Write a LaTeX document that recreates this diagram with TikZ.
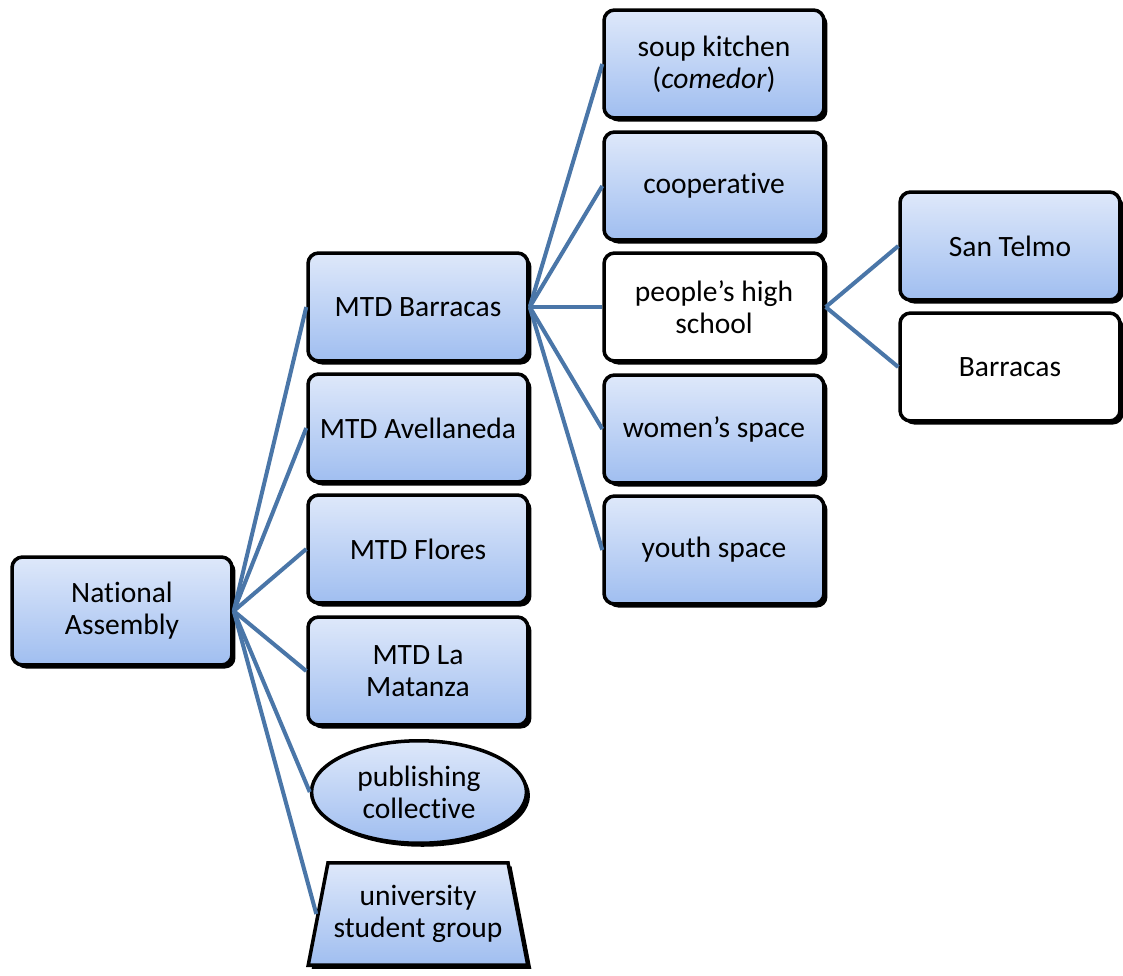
\documentclass[tikz,border=0pt]{standalone}
\usepackage{fontspec}
\setmainfont{Carlito}[Ligatures=NoCommon]
\usetikzlibrary{shapes.geometric,shadows}
\definecolor{linkblue}{RGB}{74,118,168}
\definecolor{boxtop}{RGB}{222,232,250}
\definecolor{boxbot}{RGB}{160,190,240}

\begin{document}
\begin{tikzpicture}
[x=0.02cm,y=-0.02cm,
unit/.style={draw=black,line width=2pt,rounded corners=6pt,
  minimum width=4.4cm,minimum height=2.16cm,align=center,
  font=\fontsize{16.8}{18.3}\selectfont,
  top color=boxtop,bottom color=boxbot,
  drop shadow={shadow xshift=2pt,shadow yshift=-2pt,fill=black,opacity=1}},
plain/.style={unit,top color=white,bottom color=white},
oval/.style={unit,ellipse,rounded corners=0pt,minimum width=4.3cm,minimum height=2.05cm},
trap/.style={unit,trapezium,rounded corners=0pt,trapezium stretches=true,inner xsep=0pt,
  trapezium angle=75,minimum width=4.4cm,minimum height=2.05cm},
link/.style={draw=linkblue,line width=2.3pt},]
\useasboundingbox (0,0) rectangle (1123,975);

\node (NA) at (122,611)[unit]{National\\Assembly};

\node (Barr) at (418,307)[unit]{MTD Barracas};
\node (Avel) at (418,428)[unit]{MTD Avellaneda};
\node (Flor) at (418,549)[unit]{MTD Flores};
\node (Mat) at (418,671)[unit]{MTD La\\Matanza};
\node (Pub) at (419,792)[oval]{publishing\\collective};
\node (Uni) at (418,914)[trap]{university\\student group};

\node (Soup) at (714,64)[unit]{soup kitchen\\(\textit{comedor})};
\node (Coop) at (714,186)[unit]{cooperative};
\node (High) at (714,307)[plain]{people’s high\\school};
\node (Wom) at (714,429)[unit]{women’s space};
\node (Youth) at (714,550)[unit]{youth space};

\node (Telmo) at (1010,246)[unit]{San Telmo};
\node (BarrS) at (1010,367)[plain]{Barracas};

\draw[link] (NA.east)--(Barr.west);
\draw[link] (NA.east)--(Avel.west);
\draw[link] (NA.east)--(Flor.west);
\draw[link] (NA.east)--(Mat.west);
\draw[link] (NA.east)--(Pub.west);
\draw[link] (NA.east)--(Uni.west);

\draw[link] (Barr.east)--(Soup.west);
\draw[link] (Barr.east)--(Coop.west);
\draw[link] (Barr.east)--(High.west);
\draw[link] (Barr.east)--(Wom.west);
\draw[link] (Barr.east)--(Youth.west);

\draw[link] (High.east)--(Telmo.west);
\draw[link] (High.east)--(BarrS.west);

\end{tikzpicture}
\end{document}
